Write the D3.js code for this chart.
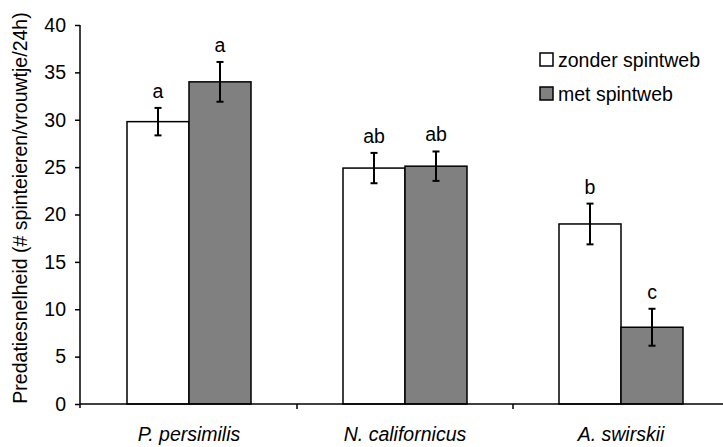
<!DOCTYPE html>
<html>
  <head>
    <meta charset="utf-8" />
    <title>Predatiesnelheid</title>
    <script src="https://d3js.org/d3.v7.min.js"></script>
    <style>
      body { margin: 0; background: #fff; }
      text { font-family: "Liberation Sans", Arial, sans-serif; fill: #000; }
    </style>
  </head>
  <body>
    <svg id="viz"></svg>
    <script>

      var species = ["P. persimilis", "N. californicus", "A. swirskii"];
      var seriesNames = ["zonder spintweb", "met spintweb"];
      var zonder = [29.8, 24.9, 19.0];
      var met = [34.0, 25.1, 8.1];
      var zonderErr = [1.45, 1.6, 2.15];
      var metErr = [2.1, 1.55, 1.95];
      var zonderLetters = ["a", "ab", "b"];
      var metLetters = ["a", "ab", "c"];
      var yTicks = [0, 5, 10, 15, 20, 25, 30, 35, 40];

      var width = 723, height = 447;
      var colors = ["#ffffff", "#808080"];
      var fs = "19.5px";

      var svg = d3.select("#viz")
        .attr("width", width)
        .attr("height", height);

      var x = d3.scaleBand()
        .domain(species)
        .range([81, 729]);

      var y = d3.scaleLinear()
        .domain([0, 40])
        .range([404, 25]);

      var barW = 62;

      var rows = [];
      species.forEach(function(s, i) {
        rows.push({ sp: s, k: 0, v: zonder[i], e: zonderErr[i], l: zonderLetters[i] });
        rows.push({ sp: s, k: 1, v: met[i], e: metErr[i], l: metLetters[i] });
      });

      function bx(d) {
        return x(d.sp) + x.bandwidth() / 2 - barW + d.k * barW;
      }

      // bars
      svg.append("g").selectAll("rect")
        .data(rows)
        .enter().append("rect")
        .attr("x", bx)
        .attr("y", function(d) { return y(d.v); })
        .attr("width", barW)
        .attr("height", function(d) { return y(0) - y(d.v); })
        .attr("fill", function(d) { return colors[d.k]; })
        .attr("stroke", "#000")
        .attr("stroke-width", 1.5);

      // error bars
      var eb = svg.append("g").selectAll("g")
        .data(rows)
        .enter().append("g")
        .attr("stroke", "#000")
        .attr("stroke-width", 2);

      eb.append("line")
        .attr("x1", function(d) { return bx(d) + barW / 2; })
        .attr("x2", function(d) { return bx(d) + barW / 2; })
        .attr("y1", function(d) { return y(d.v + d.e); })
        .attr("y2", function(d) { return y(d.v - d.e); });

      eb.append("line")
        .attr("x1", function(d) { return bx(d) + barW / 2 - 3.5; })
        .attr("x2", function(d) { return bx(d) + barW / 2 + 3.5; })
        .attr("y1", function(d) { return y(d.v + d.e); })
        .attr("y2", function(d) { return y(d.v + d.e); });

      eb.append("line")
        .attr("x1", function(d) { return bx(d) + barW / 2 - 3.5; })
        .attr("x2", function(d) { return bx(d) + barW / 2 + 3.5; })
        .attr("y1", function(d) { return y(d.v - d.e); })
        .attr("y2", function(d) { return y(d.v - d.e); });

      // letters
      svg.append("g").selectAll("text")
        .data(rows)
        .enter().append("text")
        .attr("x", function(d) { return bx(d) + barW / 2; })
        .attr("y", function(d) { return y(d.v + d.e) - 10; })
        .attr("text-anchor", "middle")
        .attr("font-size", fs)
        .text(function(d) { return d.l; });

      // y axis
      var yAxis = svg.append("g")
        .attr("transform", "translate(80,0)")
        .call(d3.axisLeft(y).tickValues(yTicks).tickSize(5).tickPadding(9));
      yAxis.select(".domain").attr("stroke-width", 1.5).attr("d", "M0,25V408");
      yAxis.selectAll(".tick line").attr("stroke-width", 1.5);
      yAxis.selectAll("text").attr("font-size", fs).attr("font-family", "Liberation Sans, Arial, sans-serif");

      // x axis
      var bounds = species.map(function(s) { return x(s) + x.bandwidth(); });
      var xAxis = svg.append("g")
        .attr("transform", "translate(0,404)");
      xAxis.append("line")
        .attr("x1", 80).attr("x2", width)
        .attr("stroke", "#000").attr("stroke-width", 1.5);
      xAxis.selectAll(".xt")
        .data(bounds)
        .enter().append("line")
        .attr("x1", function(d) { return d; })
        .attr("x2", function(d) { return d; })
        .attr("y1", 0).attr("y2", 5)
        .attr("stroke", "#000").attr("stroke-width", 1.5);
      xAxis.selectAll(".xl")
        .data(species)
        .enter().append("text")
        .attr("x", function(d) { return x(d) + x.bandwidth() / 2; })
        .attr("y", 37)
        .attr("text-anchor", "middle")
        .attr("font-size", fs)
        .attr("font-style", "italic")
        .text(function(d) { return d; });

      // y title
      svg.append("text")
        .attr("transform", "translate(27,208) rotate(-90)")
        .attr("text-anchor", "middle")
        .attr("font-size", fs)
        .text("Predatiesnelheid (# spinteieren/vrouwtje/24h)");

      // legend
      var leg = svg.append("g").selectAll("g")
        .data(seriesNames)
        .enter().append("g")
        .attr("transform", function(d, i) { return "translate(540," + (53 + i * 34) + ")"; });
      leg.append("rect")
        .attr("width", 13).attr("height", 13)
        .attr("fill", function(d, i) { return colors[i]; })
        .attr("stroke", "#000").attr("stroke-width", 1.5);
      leg.append("text")
        .attr("x", 18).attr("y", 13.5)
        .attr("font-size", fs)
        .text(function(d) { return d; });

    </script>
  </body>
</html>
